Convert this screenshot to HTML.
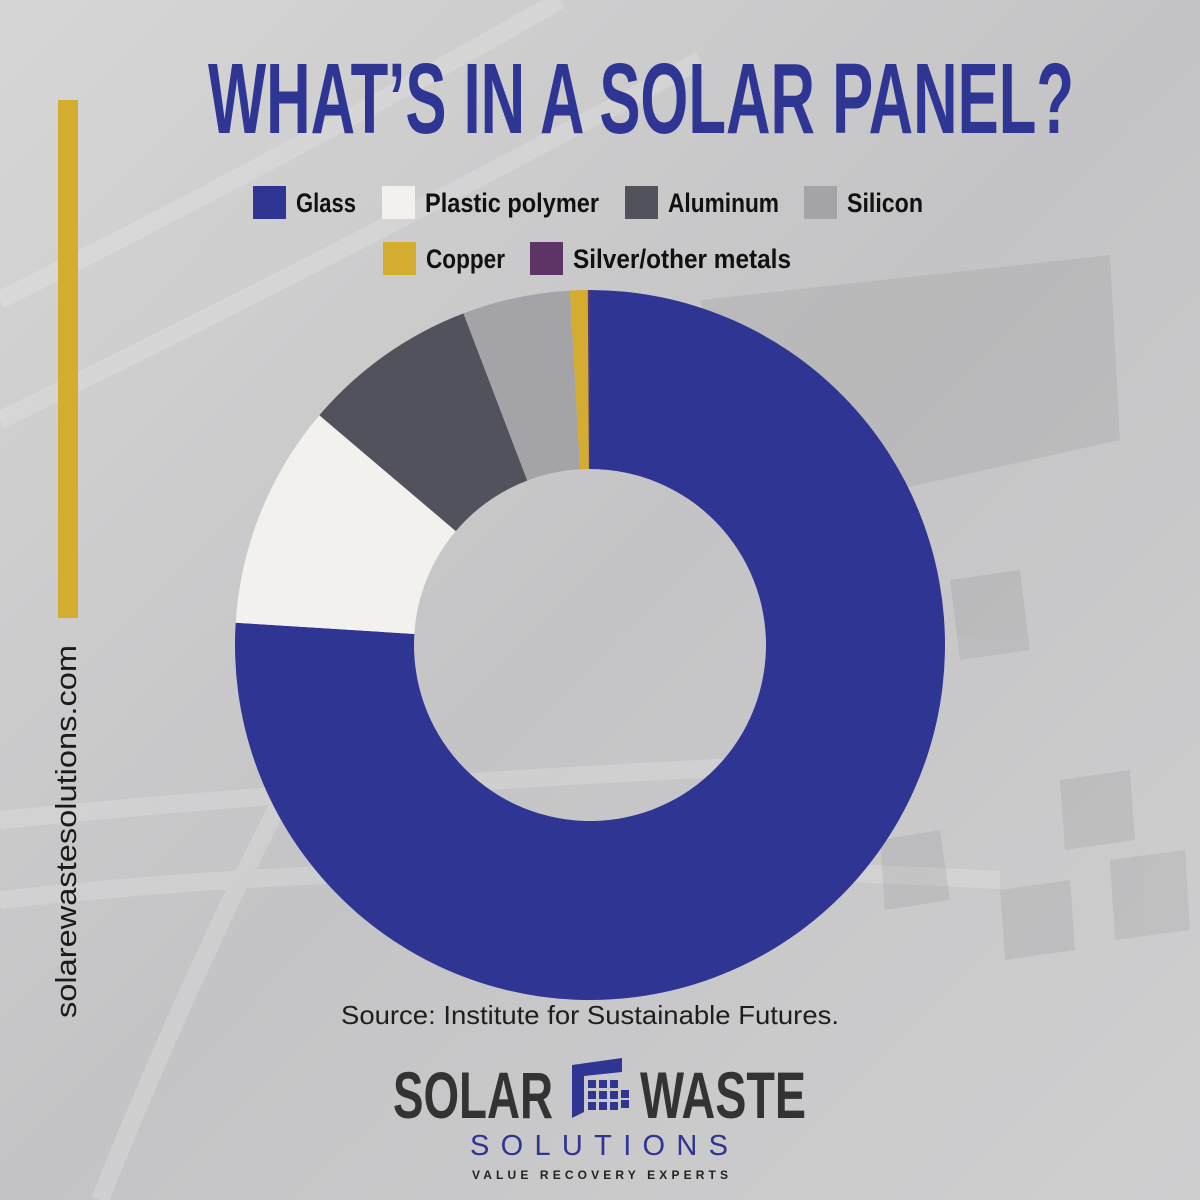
<!DOCTYPE html>
<html><head><meta charset="utf-8"><style>
html,body{margin:0;padding:0;width:1200px;height:1200px;overflow:hidden;background:#c9c9c9}
svg{display:block}
</style></head><body>
<svg width="1200" height="1200" viewBox="0 0 1200 1200" xmlns="http://www.w3.org/2000/svg">
<defs>
<linearGradient id="bg" x1="0" y1="0" x2="1" y2="1">
<stop offset="0" stop-color="#d6d6d6"/><stop offset="0.5" stop-color="#c4c4c6"/><stop offset="1" stop-color="#cfcfd0"/>
</linearGradient>
</defs>
<rect width="1200" height="1200" fill="url(#bg)"/>
<g opacity="0.25" stroke="#eeeeee" stroke-width="18" fill="none">
<path d="M0 300 Q300 150 560 0"/><path d="M0 420 Q350 250 700 60"/><path d="M100 1200 Q300 700 520 420"/>
<path d="M0 820 Q400 780 900 760"/><path d="M0 900 Q450 850 1000 880"/>
</g>
<g opacity="0.1" fill="#555">
<polygon points="700,300 1110,255 1120,440 760,520"/>
<polygon points="950,580 1020,570 1030,650 960,660"/>
<polygon points="880,840 940,830 950,900 885,910"/>
<polygon points="1000,890 1070,880 1075,950 1005,960"/>
<polygon points="1110,860 1185,850 1190,930 1115,940"/>
<polygon points="1060,780 1130,770 1135,840 1065,850"/>
</g>
<text x="208" y="133" textLength="866" lengthAdjust="spacingAndGlyphs" font-family="Liberation Sans, sans-serif" font-weight="bold" font-size="100" fill="#2e3592">WHAT’S IN A SOLAR PANEL?</text>
<rect x="58" y="100" width="20" height="518" fill="#d4ac2f"/>
<text transform="translate(76,1018) rotate(-90)" textLength="373" lengthAdjust="spacingAndGlyphs" font-family="Liberation Sans, sans-serif" font-size="29" fill="#1a1a1a">solarewastesolutions.com</text>
<g font-family="Liberation Sans, sans-serif" font-weight="bold" font-size="27" fill="#111">
<rect x="253" y="186" width="33" height="33" fill="#2e3592"/>
<text x="296" y="212" textLength="60" lengthAdjust="spacingAndGlyphs">Glass</text>
<rect x="382" y="186" width="33" height="33" fill="#f2f1ee"/>
<text x="425" y="212" textLength="174" lengthAdjust="spacingAndGlyphs">Plastic polymer</text>
<rect x="625" y="186" width="33" height="33" fill="#52525c"/>
<text x="668" y="212" textLength="111" lengthAdjust="spacingAndGlyphs">Aluminum</text>
<rect x="804" y="186" width="33" height="33" fill="#a3a3a8"/>
<text x="847" y="212" textLength="76" lengthAdjust="spacingAndGlyphs">Silicon</text>
<rect x="383" y="242" width="33" height="33" fill="#d4ac2f"/>
<text x="426" y="268" textLength="79" lengthAdjust="spacingAndGlyphs">Copper</text>
<rect x="530" y="242" width="33" height="33" fill="#5e3466"/>
<text x="573" y="268" textLength="218" lengthAdjust="spacingAndGlyphs">Silver/other metals</text>
</g>
<g id="donut"></g>
<text x="590" y="1024" text-anchor="middle" textLength="498" lengthAdjust="spacingAndGlyphs" font-family="Liberation Sans, sans-serif" font-size="26" fill="#1e1e1e">Source:  Institute for Sustainable Futures.</text>
<text x="393" y="1118" textLength="160" lengthAdjust="spacingAndGlyphs" font-family="Liberation Sans, sans-serif" font-weight="bold" font-size="66" fill="#333">SOLAR</text>
<text x="640" y="1118" textLength="166" lengthAdjust="spacingAndGlyphs" font-family="Liberation Sans, sans-serif" font-weight="bold" font-size="66" fill="#333">WASTE</text>
<g fill="#2e3592">
<polygon points="572,1065 622,1058 622,1072 584,1076 584,1112 572,1118"/>
<rect x="588" y="1080" width="8" height="8"/><rect x="599" y="1080" width="8" height="8"/><rect x="610" y="1080" width="8" height="8"/>
<rect x="588" y="1091" width="8" height="8"/><rect x="599" y="1091" width="8" height="8"/><rect x="610" y="1091" width="8" height="8"/>
<rect x="588" y="1102" width="8" height="8"/><rect x="599" y="1102" width="8" height="8"/><rect x="610" y="1102" width="8" height="8"/>
<rect x="621" y="1100" width="8" height="8"/><rect x="621" y="1090" width="8" height="8"/>
</g>
<text x="470" y="1155" textLength="258" lengthAdjust="spacing" font-family="Liberation Sans, sans-serif" font-size="29" fill="#2e3592">SOLUTIONS</text>
<text x="472" y="1179" textLength="256" lengthAdjust="spacing" font-family="Liberation Sans, sans-serif" font-weight="bold" font-size="12" fill="#222">VALUE RECOVERY EXPERTS</text>
</svg>
<script>
(function(){
var cx=590,cy=645,R=355,r=176;
var data=[[76,"#2e3592"],[10.2,"#f2f1ee"],[8,"#52525c"],[4.9,"#a3a3a8"],[0.8,"#d4ac2f"],[0.1,"#5e3466"]];
var tot=data.reduce(function(a,b){return a+b[0]},0),a0=0,g=document.getElementById("donut"),s="";
function p(rad,a){return [cx+rad*Math.sin(a),cy-rad*Math.cos(a)];}
data.forEach(function(d){
var a1=a0+d[0]/tot*2*Math.PI,l=(a1-a0)>Math.PI?1:0;
var A=p(R,a0),B=p(R,a1),C=p(r,a1),D=p(r,a0);
s+='<path fill="'+d[1]+'" d="M'+A+' A'+R+' '+R+' 0 '+l+' 1 '+B+' L'+C+' A'+r+' '+r+' 0 '+l+' 0 '+D+' Z"/>';
a0=a1;});
g.innerHTML=s;
})();
</script>
</body></html>
